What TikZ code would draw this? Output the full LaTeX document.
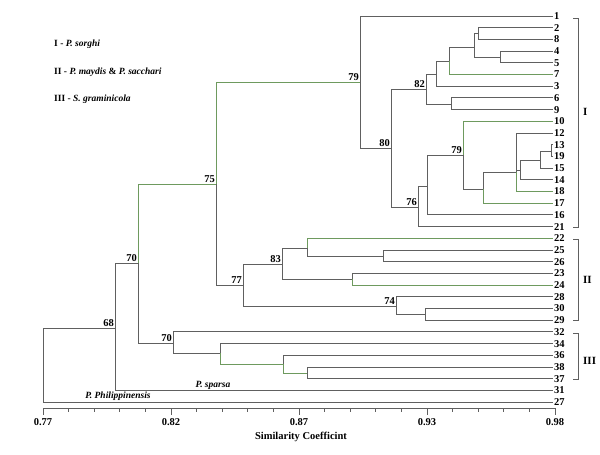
\documentclass[tikz,border=0pt]{standalone}
\usepackage{fontspec}
\setmainfont{Liberation Serif}
\usetikzlibrary{positioning}
\definecolor{dendgray}{HTML}{606060}
\definecolor{dendgreen}{HTML}{6E9A5E}

\tikzset{
  br/.style={draw=dendgray, line width=1pt},
  gbr/.style={draw=dendgreen, line width=1pt},
  leaf/.style={anchor=west, inner sep=1pt, font=\fontsize{10.5}{11}\selectfont\bfseries},
  num/.style={inner sep=1pt, font=\fontsize{10.5}{11}\selectfont\bfseries},
  grp/.style={anchor=west, inner sep=1pt, font=\fontsize{11}{12}\selectfont\bfseries},
  legend/.style={anchor=west, inner sep=0pt, font=\fontsize{9.5}{11}\selectfont\bfseries},
  species/.style={inner sep=1pt, font=\fontsize{9.5}{11}\selectfont\bfseries\itshape},
}

\begin{document}
\begin{tikzpicture}[x=1pt, y=-1pt]
\useasboundingbox (0,0) rectangle (600,455);

% legend
\node[legend] (legI)   at (54,44) {I - \textit{P. sorghi}};
\node[legend] (legII)  at (54,72) {II - \textit{P. maydis} \& \textit{P. sacchari}};
\node[legend] (legIII) at (54,99) {III - \textit{S. graminicola}};

% leaves, top to bottom
\foreach \lab [count=\i from 0] in {1,2,8,4,5,7,3,6,9,10,12,13,19,15,14,18,17,16,21,22,25,26,23,24,28,30,29,32,34,36,38,37,31,27}
  \node[leaf] (l\lab) at (553,{16+11.7*\i}) {\lab};

% internal nodes
\coordinate (root) at (43,365);
\coordinate[label={[num]above left:68}] (n68) at (115,328);
\coordinate[label={[num]above left:70}] (n70a) at (138,263);
\coordinate[label={[num]above left:75}] (n75) at (216,184);
\coordinate[label={[num]above left:79}] (n79a) at (360,82);
\coordinate[label={[num]above left:80}] (n80) at (391,148);
\coordinate[label={[num]above left=0pt and 5pt:82}] (n82) at (426,89);
\coordinate (g3) at (436,74);
\coordinate (g7) at (449,61);
\coordinate (g2845) at (474,47);
\coordinate (g28) at (478,33);
\coordinate (g45) at (500,57);
\coordinate (g69) at (451,104);
\coordinate[label={[num]above left:76}] (n76) at (418,207);
\coordinate (q16) at (427,186);
\coordinate[label={[num]above left:79}] (n79b) at (463,155);
\coordinate (q17) at (483,189);
\coordinate (q12) at (516,172);
\coordinate (q14) at (520,170);
\coordinate (q15) at (540,160);
\coordinate (g1319) at (551,151);
\coordinate[label={[num]above left:77}] (n77) at (243,285);
\coordinate[label={[num]above left:83}] (n83) at (282,264);
\coordinate (g22) at (307,248);
\coordinate (g2526) at (383,256);
\coordinate (g2324) at (352,279);
\coordinate[label={[num]above left:74}] (n74) at (396,306);
\coordinate (g3029) at (425,314);
\coordinate[label={[num]above left:70}] (n70b) at (173,343);
\coordinate (g34) at (220,353);
\coordinate (g36) at (283,364);
\coordinate (g3837) at (307,373);

% branches
\foreach \p/\c in {root/n68, root/l27.west, n68/l31.west, n68/n70a, n70a/n70b,
    n75/n77, n79a/l1.west, n79a/n80, n80/n82, n80/n76,
    n82/g3, n82/g69, g3/g7, g3/l3.west, g7/g2845, g2845/g28, g2845/g45,
    g28/l2.west, g28/l8.west, g45/l4.west, g45/l5.west, g69/l6.west, g69/l9.west,
    n76/q16, n76/l21.west, q16/n79b, q16/l16.west, n79b/q17, q17/q12,
    q12/l12.west, q12/q14, q14/q15, q14/l14.west, q15/g1319, q15/l15.west,
    g1319/l13.west, g1319/l19.west,
    n77/n83, n77/n74, n83/g22, n83/g2324, g22/g2526, g2526/l25.west, g2526/l26.west,
    g2324/l23.west, n74/l28.west, n74/g3029, g3029/l30.west, g3029/l29.west,
    n70b/l32.west, n70b/g34, g34/l34.west, g36/l36.west, g3837/l38.west, g3837/l37.west}
  \draw[br] (\p) |- (\c);
\foreach \p/\c in {n70a/n75, n75/n79a, n79b/l10.west, q17/l17.west,
    q12/l18.west, g7/l7.west, g22/l22.west, g2324/l24.west, g34/g36, g36/g3837}
  \draw[gbr] (\p) |- (\c);

% outgroup names
\node[species] (sparsa) at (213,385) {P. sparsa};
\node[species] (philip) at (118,396) {P. Philippinensis};

% group brackets
\coordinate (bIt) at (578,18);   \coordinate (bIb) at (578,227);
\coordinate (bIIt) at (578,239); \coordinate (bIIb) at (578,320);
\coordinate (bIIIt) at (578,333); \coordinate (bIIIb) at (578,379);
\draw[br] (bIt) ++(-5,0) -- (bIt) -- (bIb) -- ++(-5,0);
\draw[br] (bIIt) ++(-5,0) -- (bIIt) -- (bIIb) -- ++(-5,0);
\draw[br] (bIIIt) ++(-5,0) -- (bIIIt) -- (bIIIb) -- ++(-5,0);
\node[grp] (gI) at (582,112) {I};
\node[grp] (gII) at (582,280) {II};
\node[grp] (gIII) at (582,361) {III};

% axis
\coordinate (ax0) at (43,408);
\coordinate (ax1) at (555,408);
\draw[br] (ax0) -- (ax1);
\foreach \k in {0,...,20}
  \draw[br] (43+25.6*\k,408) -- ++(0,4);
\foreach \v [count=\k from 0] in {0.77,0.82,0.87,0.93,0.98}
  \draw[br] (43+128*\k,408) -- ++(0,7) node[num, below=2pt] (tick\k) {\v};
\node[num] (axtitle) at (301,437) {Similarity Coefficint};
\end{tikzpicture}
\end{document}
